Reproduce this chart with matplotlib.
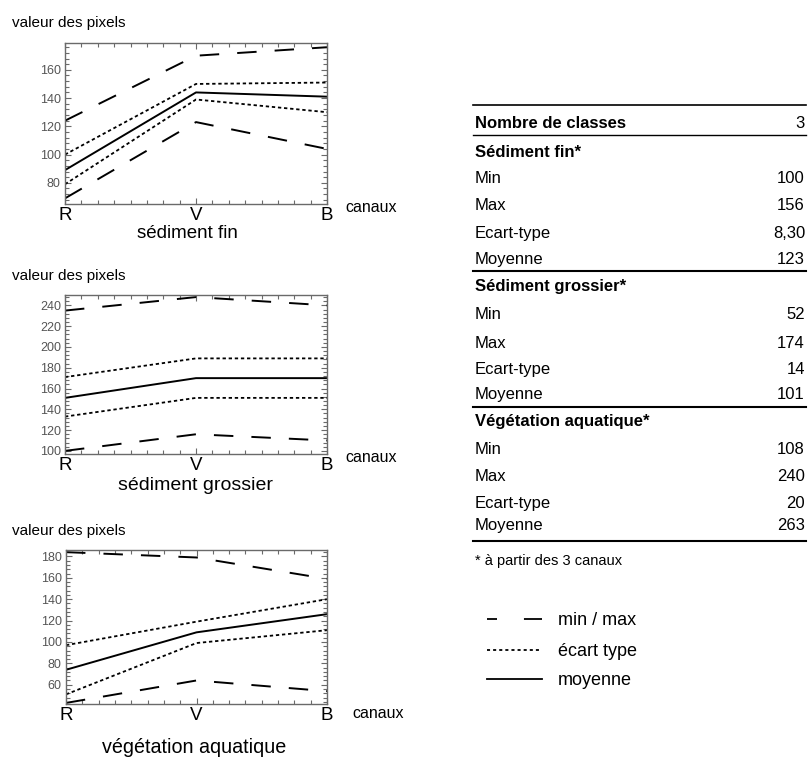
import matplotlib
matplotlib.use("Agg")
import matplotlib.pyplot as plt
from matplotlib.ticker import MultipleLocator, FixedLocator
from matplotlib.lines import Line2D

plt.rcParams['font.family'] = ['Liberation Sans', 'DejaVu Sans']
plt.rcParams['lines.scale_dashes'] = False

# ---------------- data ----------------
canaux = ['R', 'V', 'B']

fin_max = [124, 170, 176]
fin_sd_hi = [100, 150, 151]
fin_mean = [89, 144, 141]
fin_sd_lo = [79, 139, 130]
fin_min = [69, 123, 104]

gro_max = [235, 248, 240]
gro_sd_hi = [171, 189, 189]
gro_mean = [151, 170, 170]
gro_sd_lo = [133, 151, 151]
gro_min = [100, 116, 110]

veg_max = [184, 179, 159]
veg_sd_hi = [97, 119, 140]
veg_mean = [74, 109, 126]
veg_sd_lo = [51, 99, 111]
veg_min = [43, 64, 54]

titres = ['sédiment fin', 'sédiment grossier', 'végétation aquatique']

table_rows = [
    ('Nombre de classes', '3', True),
    ('Sédiment fin*', '', True),
    ('Min', '100', False), ('Max', '156', False),
    ('Ecart-type', '8,30', False), ('Moyenne', '123', False),
    ('Sédiment grossier*', '', True),
    ('Min', '52', False), ('Max', '174', False),
    ('Ecart-type', '14', False), ('Moyenne', '101', False),
    ('Végétation aquatique*', '', True),
    ('Min', '108', False), ('Max', '240', False),
    ('Ecart-type', '20', False), ('Moyenne', '263', False),
]
footnote = '* à partir des 3 canaux'
legend_labels = ['min / max', 'écart type', 'moyenne']

# ---------------- layout helpers ----------------
W, H = 808, 760
fig = plt.figure(figsize=(W / 100, H / 100), dpi=100)


def fx(x):
    return x / W


def fy(y):
    return 1 - y / H


DASH = (0, (14, 13))
DOT = (0, (2.4, 2.0))
FRAME = '#6a6a6a'

panels = [
    dict(data=(fin_max, fin_sd_hi, fin_mean, fin_sd_lo, fin_min), box=(65, 43, 327, 204),
         ylim=(65, 179), yt=[80, 100, 120, 140, 160], label_y=23, title_y=233, title_x=187,
         title_fs=13.5, canaux=(345, 207)),
    dict(data=(gro_max, gro_sd_hi, gro_mean, gro_sd_lo, gro_min), box=(65, 295, 327, 454),
         ylim=(97, 250), yt=[100, 120, 140, 160, 180, 200, 220, 240], label_y=276, title_y=485,
         title_x=195, title_fs=14, canaux=(345, 458)),
    dict(data=(veg_max, veg_sd_hi, veg_mean, veg_sd_lo, veg_min), box=(66, 550, 327, 704),
         ylim=(42, 186), yt=[60, 80, 100, 120, 140, 160, 180], label_y=531, title_y=748,
         title_x=194, title_fs=14.2, canaux=(352, 713)),
]

x = list(range(len(canaux)))
for p, titre in zip(panels, titres):
    x0, y0, x1, y1 = p['box']
    ax = fig.add_axes([fx(x0), fy(y1), (x1 - x0) / W, (y1 - y0) / H])
    mx, sh, mn, sl, mi = p['data']
    ax.plot(x, mx, color='black', lw=1.4, ls=DASH)
    ax.plot(x, mi, color='black', lw=1.4, ls=DASH)
    ax.plot(x, sh, color='black', lw=1.3, ls=DOT)
    ax.plot(x, sl, color='black', lw=1.3, ls=DOT)
    ax.plot(x, mn, color='black', lw=1.4)
    ax.set_xlim(0, 2)
    ax.set_ylim(*p['ylim'])
    ax.xaxis.set_major_locator(FixedLocator(x))
    ax.set_xticklabels(canaux, fontsize=13.5, color='black')
    ax.xaxis.set_minor_locator(MultipleLocator(0.125))
    ax.yaxis.set_major_locator(FixedLocator(p['yt']))
    ax.yaxis.set_minor_locator(MultipleLocator(4))
    ax.tick_params(axis='both', which='both', direction='in', top=True, right=True,
                   color=FRAME, width=0.8)
    ax.tick_params(axis='both', which='major', length=4.5)
    ax.tick_params(axis='both', which='minor', length=3)
    ax.tick_params(axis='y', labelsize=9, labelcolor='#555555', pad=3)
    ax.tick_params(axis='x', pad=2.5)
    for s in ax.spines.values():
        s.set_color(FRAME)
        s.set_linewidth(1.0)
    fig.text(fx(12), fy(p['label_y']), 'valeur des pixels', fontsize=11, va='center', ha='left')
    fig.text(fx(p['canaux'][0]), fy(p['canaux'][1]), 'canaux', fontsize=11.5, va='center', ha='left')
    fig.text(fx(p['title_x']), fy(p['title_y'] + 5), titre, fontsize=p['title_fs'],
             va='baseline', ha='center')

# ---------------- table ----------------
TL, TR = 473, 806
row_y = [122, 151, 177, 204, 232, 258, 285, 313, 342, 368, 393, 420, 448, 475, 502, 524]
for (lab, val, bold), yy in zip(table_rows, row_y):
    fig.text(fx(TL + 2), fy(yy + 6), lab, fontsize=12, fontweight='bold' if bold else 'normal',
             va='baseline', ha='left')
    if val:
        fig.text(fx(TR - 1), fy(yy + 6), val, fontsize=12, va='baseline', ha='right')

for yy, lw in [(105, 1.2), (135, 1.0), (271, 1.5), (407, 1.5), (541, 1.5)]:
    fig.add_artist(Line2D([fx(TL), fx(TR)], [fy(yy), fy(yy)], color='black', lw=lw))

fig.text(fx(TL + 2), fy(560 + 5), footnote, fontsize=10.5, va='baseline', ha='left')

# ---------------- legend ----------------
leg_styles = [(0, (7.2, 19.4, 13, 10)), (0, (2.2, 2.2)), '-']
leg_y = [619, 650, 679]
for lab, st, yy in zip(legend_labels, leg_styles, leg_y):
    fig.add_artist(Line2D([fx(487), fx(542)], [fy(yy), fy(yy)], color='black', lw=1.3, ls=st))
    fig.text(fx(558), fy(yy + 6), lab, fontsize=13, va='baseline', ha='left')

fig.savefig('out.png', dpi=100)
